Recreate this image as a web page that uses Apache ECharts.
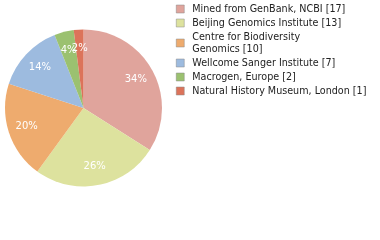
<!DOCTYPE html>
<html><head><meta charset="utf-8">
<script src="https://cdn.jsdelivr.net/npm/echarts@6/dist/echarts.min.js"></script>
<style>html,body{margin:0;padding:0;background:#fff}#c{width:380px;height:240px}</style>
</head><body><div id="c"></div>
<script>
var categories = ["Mined from GenBank, NCBI", "Beijing Genomics Institute", "Centre for Biodiversity Genomics", "Wellcome Sanger Institute", "Macrogen, Europe", "Natural History Museum, London"];
var legendLabels = ["Mined from GenBank, NCBI [17]", "Beijing Genomics Institute [13]", "Centre for Biodiversity\nGenomics [10]", "Wellcome Sanger Institute [7]", "Macrogen, Europe [2]", "Natural History Museum, London [1]"];
var values = [17, 13, 10, 7, 2, 1];
var colors = ["#e0a49c", "#dde29e", "#eeab6e", "#9dbbdf", "#9bc170", "#dc735a"];

var total = values.reduce(function(a,b){return a+b;},0);
var data = categories.map(function(n,i){return {name:n, value:values[i], itemStyle:{color:colors[i]}};});
var overlay = categories.map(function(n,i){return {name:n, value:values[i], itemStyle:{color:'rgba(0,0,0,0)'}};});
var chart = echarts.init(document.getElementById('c'), null, {renderer:'canvas'});
chart.setOption({
  animation:false,
  legend:{
    orient:'vertical', left:171, top:-2, itemWidth:8, itemHeight:8, itemGap:2,
    icon:'rect',
    data: categories.map(function(n,i){return {name:n, itemStyle:{color:colors[i], borderColor:'#888', borderWidth:0.5}};}),
    formatter:function(n){return legendLabels[categories.indexOf(n)];},
    textStyle:{fontFamily:'DejaVu Sans', fontSize:9.6, color:'#222', lineHeight:12, padding:[0,0,0,3]}
  },
  series:[
    {type:'pie', center:[83.5,108], radius:[0,78.5], startAngle:90, clockwise:true, data:data,
     label:{show:false}, labelLine:{show:false}, silent:true},
    {type:'pie', center:[83.5,108], radius:[35,78.5], startAngle:90, clockwise:true, data:overlay,
     silent:true, z:3, avoidLabelOverlap:false, minShowLabelAngle:0,
     labelLayout:{hideOverlap:false},
     label:{show:true, position:'inside', color:'#fff', fontFamily:'DejaVu Sans', fontSize:10,
       formatter:function(p){return Math.round(p.value/total*100)+'%';}},
     labelLine:{show:false}}
  ]
});
</script></body></html>
